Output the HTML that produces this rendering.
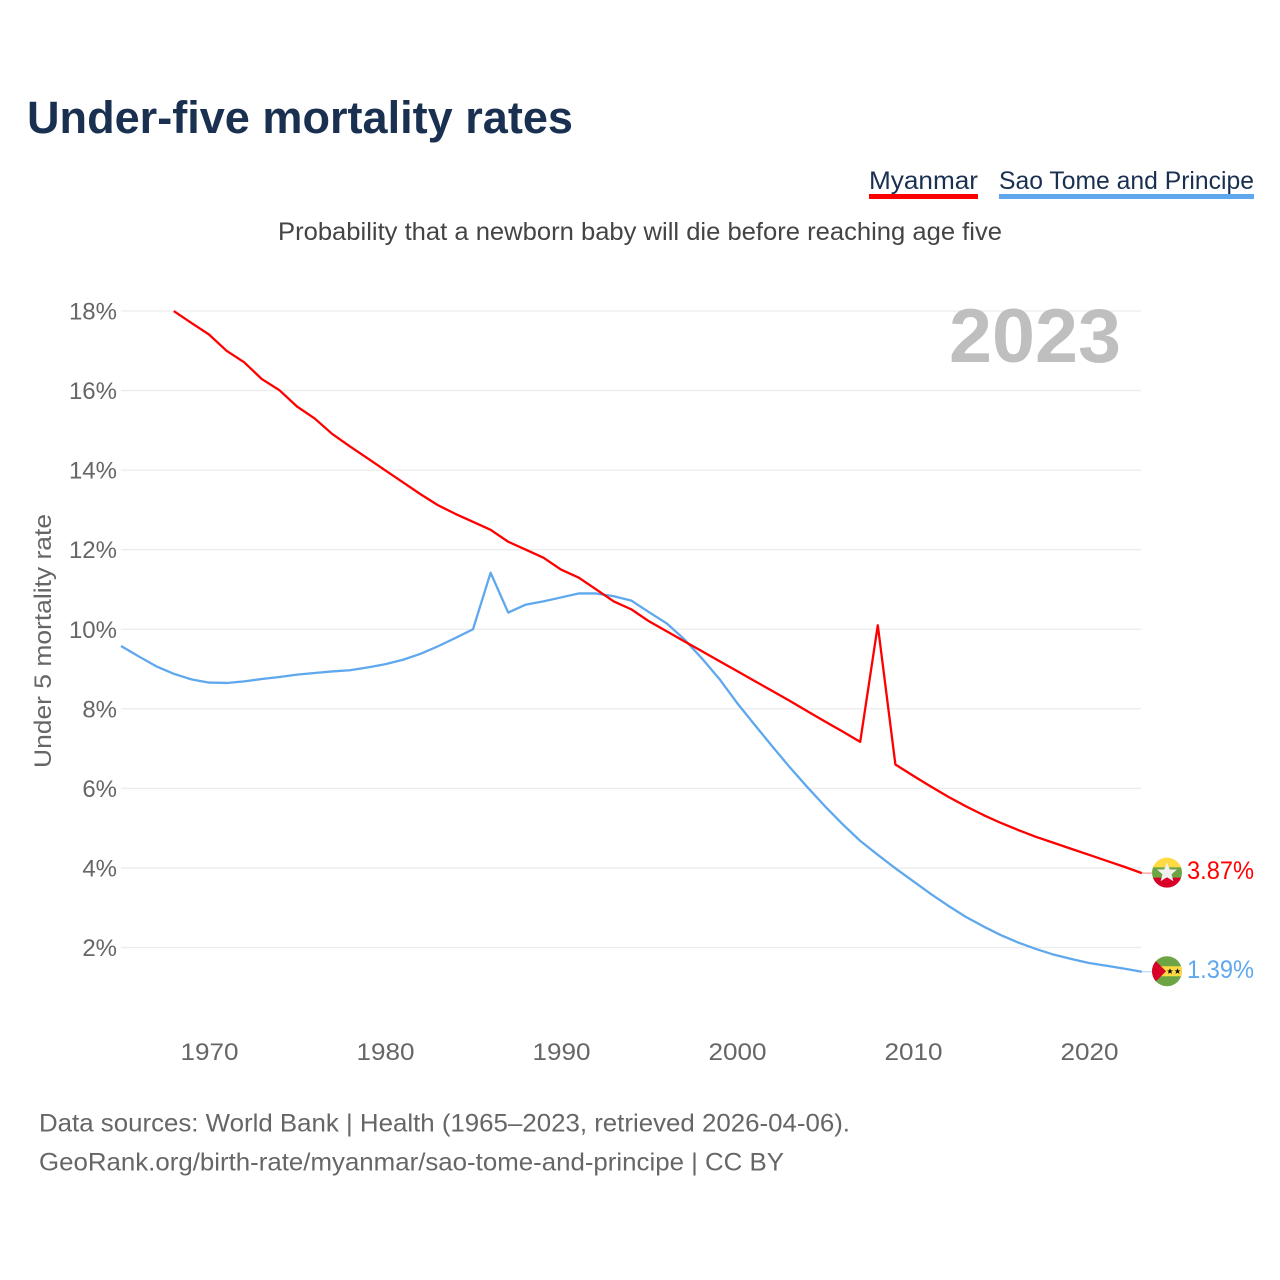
<!DOCTYPE html>
<html lang="en">
<head>
<meta charset="utf-8">
<title>Under-five mortality rates</title>
<style>
html,body{margin:0;padding:0;background:#fff;}
svg{display:block;font-family:"Liberation Sans",sans-serif;}
</style>
</head>
<body>
<svg id="chart" width="1280" height="1280" viewBox="0 0 1280 1280" xmlns="http://www.w3.org/2000/svg">
  <rect width="1280" height="1280" fill="#fff"/>
  <text x="27" y="133" font-size="45" font-weight="700" fill="#1a3050" textLength="546" lengthAdjust="spacingAndGlyphs">Under-five mortality rates</text>
  <g>
    <text x="869" y="189" font-size="25" fill="#1a3050" textLength="109" lengthAdjust="spacingAndGlyphs">Myanmar</text>
    <rect x="869" y="194" width="109" height="5" fill="#ff0000"/>
    <text x="999" y="189" font-size="25" fill="#1a3050" textLength="255" lengthAdjust="spacingAndGlyphs">Sao Tome and Principe</text>
    <rect x="999" y="194" width="255" height="5" fill="#5fa8ee"/>
  </g>
  <text x="278" y="240" font-size="25" fill="#444" textLength="724" lengthAdjust="spacingAndGlyphs">Probability that a newborn baby will die before reaching age five</text>
  <g id="grid"></g>
  <text x="949" y="362" font-size="76" font-weight="700" fill="#bfbfbf" textLength="172" lengthAdjust="spacingAndGlyphs">2023</text>
  <g id="ylabels"></g>
  <g id="xlabels"></g>
  <text transform="translate(51 641) rotate(-90)" text-anchor="middle" font-size="24" fill="#666" textLength="254" lengthAdjust="spacingAndGlyphs">Under 5 mortality rate</text>
  <g id="series"></g>
  <g id="flag-mm">
    <clipPath id="clip-mm"><circle cx="0" cy="0" r="15"/></clipPath>
    <g clip-path="url(#clip-mm)">
      <rect x="-16" y="-16" width="32" height="11" fill="#ffda44"/>
      <rect x="-16" y="-5.3" width="32" height="10.6" fill="#6da544"/>
      <rect x="-16" y="5" width="32" height="11" fill="#d80027"/>
      <polygon points="0,-10 2.9,-3.1 10,-3.1 4.5,1.6 6.4,8.6 0,4.7 -6.4,8.6 -4.5,1.6 -10,-3.1 -2.9,-3.1" fill="#f0f0f0"/>
    </g>
  </g>
  <g id="flag-st">
    <clipPath id="clip-st"><circle cx="0" cy="0" r="15"/></clipPath>
    <g clip-path="url(#clip-st)">
      <rect x="-16" y="-16" width="32" height="32" fill="#6da544"/>
      <rect x="-16" y="-5" width="32" height="10" fill="#ffda44"/>
      <polygon points="-16,-15 -1,0 -16,15" fill="#d80027"/>
      <polygon points="3,-3 3.9,-0.9 6,-0.9 4.3,0.4 5,2.6 3,1.3 1,2.6 1.7,0.4 0,-0.9 2.1,-0.9" fill="#111"/>
      <polygon points="10.5,-3 11.4,-0.9 13.5,-0.9 11.8,0.4 12.5,2.6 10.5,1.3 8.5,2.6 9.2,0.4 7.5,-0.9 9.6,-0.9" fill="#111"/>
    </g>
  </g>
  <text x="39" y="1131.5" font-size="25" fill="#666" textLength="811" lengthAdjust="spacingAndGlyphs">Data sources: World Bank | Health (1965–2023, retrieved 2026-04-06).</text>
  <text x="39" y="1170.5" font-size="25" fill="#666" textLength="745" lengthAdjust="spacingAndGlyphs">GeoRank.org/birth-rate/myanmar/sao-tome-and-principe | CC BY</text>
</svg>
<script>
const yTicks = [2, 4, 6, 8, 10, 12, 14, 16, 18];
const xTicks = [1970, 1980, 1990, 2000, 2010, 2020];
const myanmarStartYear = 1968;
const myanmarValues = [18.0, 17.7, 17.41, 17.0, 16.71, 16.29, 16.01, 15.6, 15.3, 14.91, 14.6, 14.3, 14.0, 13.7, 13.4, 13.12, 12.9, 12.7, 12.5, 12.2, 12.0, 11.8, 11.5, 11.3, 11.0, 10.7, 10.5, 10.2, 9.95, 9.7, 9.45, 9.2, 8.95, 8.7, 8.45, 8.2, 7.94, 7.68, 7.43, 7.17, 10.1, 6.6, 6.32, 6.05, 5.79, 5.55, 5.33, 5.13, 4.95, 4.78, 4.63, 4.48, 4.33, 4.18, 4.03, 3.87];
const saoTomeStartYear = 1965;
const saoTomeValues = [9.58, 9.32, 9.07, 8.88, 8.74, 8.66, 8.65, 8.69, 8.75, 8.8, 8.86, 8.9, 8.94, 8.97, 9.04, 9.12, 9.23, 9.38, 9.57, 9.78, 10.0, 11.42, 10.42, 10.62, 10.7, 10.8, 10.9, 10.9, 10.83, 10.72, 10.43, 10.15, 9.75, 9.27, 8.75, 8.15, 7.6, 7.06, 6.53, 6.03, 5.55, 5.1, 4.68, 4.33, 3.99, 3.67, 3.35, 3.05, 2.77, 2.53, 2.31, 2.12, 1.96, 1.82, 1.71, 1.61, 1.54, 1.47, 1.39];

const NS = 'http://www.w3.org/2000/svg';
function xScale(year) { return 209 + (year - 1970) * 17.6; }
function yScale(value) { return 947.5 - (value - 2) * 39.78; }
function make(tag, parent, attrs, text) {
  const el = document.createElementNS(NS, tag);
  for (const k in attrs) el.setAttribute(k, attrs[k]);
  if (text !== undefined) el.textContent = text;
  parent.appendChild(el);
  return el;
}
const gridG = document.getElementById('grid');
const yG = document.getElementById('ylabels');
const xG = document.getElementById('xlabels');
const seriesG = document.getElementById('series');

yTicks.forEach(function (t) {
  const line = make('line', gridG, { x1: 121, x2: 1141, y1: yScale(t), y2: yScale(t), stroke: '#ececec', 'stroke-width': 1.3 });
  
  
  const label = make('text', yG, { x: 117, y: yScale(t) + 8.5, 'text-anchor': 'end', 'font-size': 24, fill: '#666' }, t + '%');
  
  
});
xTicks.forEach(function (t) {
  const label = make('text', xG, { x: xScale(t) + 0.5, y: 1060, 'text-anchor': 'middle', 'font-size': 24, fill: '#666', textLength: 58, lengthAdjust: 'spacingAndGlyphs' }, String(t));
  
  
});
function buildPath(startYear, values) {
  return values.map(function (v, i) {
    return (i ? 'L' : 'M') + xScale(startYear + i).toFixed(2) + ' ' + yScale(v).toFixed(2);
  }).join(' ');
}
function drawSeries(key, startYear, values, color, flagId) {
  const last = values[values.length - 1];
  const lastY = yScale(last);
  const conn = make('line', seriesG, { x1: xScale(startYear + values.length - 1), x2: 1154, y1: lastY, y2: lastY, stroke: color, 'stroke-width': 1, opacity: 0.5 });
  
  
  const path = make('path', seriesG, { d: buildPath(startYear, values), fill: 'none', stroke: color, 'stroke-width': 2.3, 'stroke-linejoin': 'round' });
  
  
  document.getElementById(flagId).setAttribute('transform', 'translate(1167 ' + (lastY - 0.5) + ')');
  const label = make('text', seriesG, { x: 1187, y: lastY + 6, 'font-size': 25, fill: color, textLength: 67, lengthAdjust: 'spacingAndGlyphs' }, last.toFixed(2) + '%');
  
  
}
drawSeries('sao-tome', saoTomeStartYear, saoTomeValues, '#5fa8ee', 'flag-st');
drawSeries('myanmar', myanmarStartYear, myanmarValues, '#ff0000', 'flag-mm');
</script>
</body>
</html>
